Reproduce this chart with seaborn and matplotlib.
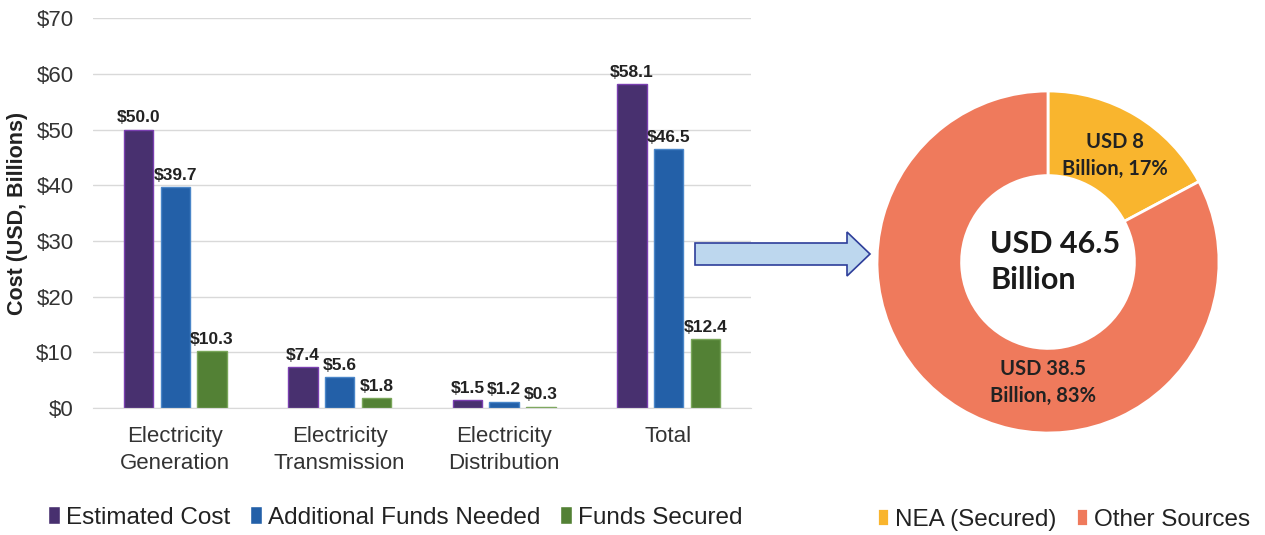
import numpy as np
import pandas as pd
import seaborn as sns
import matplotlib.pyplot as plt
from matplotlib.patches import Polygon

# Data
categories = ["Electricity\nGeneration", "Electricity\nTransmission", "Electricity\nDistribution", "Total"]
series = ["Estimated Cost", "Additional Funds Needed", "Funds Secured"]
estimated_cost = [50.0, 7.4, 1.5, 58.1]
additional_funds = [39.7, 5.6, 1.2, 46.5]
funds_secured = [10.3, 1.8, 0.3, 12.4]

donut_labels = ["NEA (Secured)", "Other Sources"]
donut_values = [8.0, 38.5]
donut_texts = ["USD 8\nBillion, 17%", "USD 38.5\nBillion, 83%"]
donut_center = "USD 46.5\nBillion"

bar_colors = ["#48306F", "#2360A8", "#538135"]
bar_edges = ["#7A3FB0", "#4A86C8", "#7AA65A"]
donut_colors = ["#F9B52E", "#EF7A5C"]

sns.set_style("white")
plt.rcParams["font.family"] = ["Liberation Sans", "DejaVu Sans"]

df = pd.DataFrame({
    "category": categories * 3,
    "series": [s for s in series for _ in categories],
    "value": estimated_cost + additional_funds + funds_secured,
})

fig = plt.figure(figsize=(12.65, 5.35), dpi=100)

# Bar chart
ax = fig.add_axes([0.0735, 0.237, 0.52, 0.729])
sns.barplot(data=df, x="category", y="value", hue="series", hue_order=series,
            palette=bar_colors, width=0.67, gap=0.2, ax=ax, legend=True,
            linewidth=1, saturation=1)
for cont, ec in zip(ax.containers, bar_edges):
    for b in cont:
        b.set_edgecolor(ec)
    ax.bar_label(cont, labels=[f"${v:.1f}" for v in cont.datavalues],
                 padding=3, fontsize=12.5, fontweight="bold", color="#222222")

ax.set_ylim(0, 70)
ax.set_xlim(-0.5, 3.5)
ax.set_yticks(np.arange(0, 71, 10))
ax.set_yticklabels([f"${t}" for t in range(0, 71, 10)], fontsize=16, color="#333333")
ax.set_xticks(range(len(categories)))
ax.set_xticklabels(categories, fontsize=16, color="#333333", linespacing=1.35)
ax.tick_params(axis="x", length=0, pad=13)
ax.tick_params(axis="y", length=0, pad=14)
ax.yaxis.grid(True, color="#D9D9D9", linewidth=1)
ax.set_axisbelow(True)
for s in ["top", "right", "left"]:
    ax.spines[s].set_visible(False)
ax.spines["bottom"].set_color("#D9D9D9")
ax.set_xlabel("")
ax.set_ylabel("Cost (USD, Billions)", fontsize=15.5, fontweight="bold", color="#222222", labelpad=6)

handles, labels = ax.get_legend_handles_labels()
ax.legend(handles, labels, loc="center", bbox_to_anchor=(0.46, -0.28), ncol=3,
          frameon=False, fontsize=17.5, handlelength=0.5, handleheight=0.75,
          handletextpad=0.25, columnspacing=0.8, labelcolor="#222222")

# Donut chart
size = 360
ax2 = fig.add_axes([(1048 - size / 2) / 1265, (535 - 262 - size / 2) / 535, size / 1265, size / 535])
wedges, _ = ax2.pie(donut_values, colors=donut_colors, startangle=90, counterclock=False,
                    radius=0.95, wedgeprops=dict(width=0.47, edgecolor="white", linewidth=2))
ax2.set_aspect("equal")
ax2.set_xlim(-1, 1)
ax2.set_ylim(-1, 1)

donut_font = ["Lato", "DejaVu Sans"]
ax2.text(0.37, 0.59, donut_texts[0], ha="center", va="center", fontsize=14.5,
         fontweight="bold", family=donut_font, color="#222222", linespacing=1.45)
ax2.text(-0.03, -0.67, donut_texts[1], ha="center", va="center", fontsize=14.5,
         fontweight="bold", family=donut_font, color="#222222", linespacing=1.45)
ax2.text(-0.32, 0.0, donut_center, ha="left", va="center", fontsize=22,
         fontweight="bold", family=donut_font, color="#1A1A1A", linespacing=1.38)

ax2.legend(wedges, donut_labels, loc="center", bbox_to_anchor=(0.544, -0.215), ncol=2,
           frameon=False, fontsize=17.5, handlelength=0.5, handleheight=0.75,
           handletextpad=0.25, columnspacing=0.8, labelcolor="#222222")

# Arrow between charts (figure pixel coords)
W, H = 1265, 535
pts = [(695, 243), (847, 243), (847, 232), (870, 254), (847, 276), (847, 265), (695, 265)]
arrow = Polygon([(x / W, 1 - y / H) for x, y in pts], closed=True, transform=fig.transFigure,
                facecolor="#BDD7EE", edgecolor="#2E3E9A", linewidth=1.2)
fig.patches.append(arrow)

fig.savefig("out.png", dpi=100)
